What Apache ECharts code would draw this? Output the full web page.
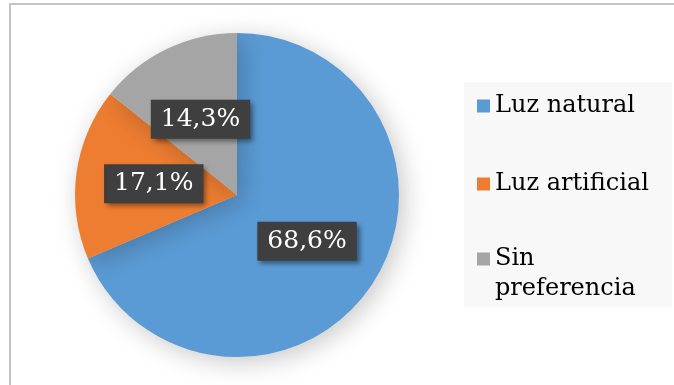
<!DOCTYPE html>
<html>
<head>
<meta charset="utf-8">
<script src="https://cdn.jsdelivr.net/npm/echarts@6/dist/echarts.min.js"></script>
<style>
html,body{margin:0;padding:0;background:#fff;}
#c{width:674px;height:385px;}
</style>
</head>
<body>
<div id="c"></div>
<script>
var categories = ['Luz natural', 'Luz artificial', 'Sin preferencia'];
var values = [68.6, 17.1, 14.3];
var colors = ['#5b9bd5', '#ed7d31', '#a5a5a5'];

var chart = echarts.init(document.getElementById('c'), null, {renderer: 'canvas'});
var FONT = '"DejaVu Serif", "Liberation Serif", serif';

var legendTops = [91, 169, 214];
function makeLegend(i) {
  return {
    orient: 'vertical',
    left: 477,
    top: legendTops[i],
    padding: 0,
    icon: 'rect',
    itemWidth: 13,
    itemHeight: 13,
    itemGap: 0,
    data: [categories[i]],
    formatter: function (n) {
      return n === 'Sin preferencia' ? '{g|}\n{t|Sin}\n{t|preferencia}' : n;
    },
    textStyle: {
      fontFamily: FONT, fontSize: 24, color: '#000', lineHeight: 30,
      rich: {
        g: {height: 30, lineHeight: 30, fontSize: 24},
        t: {fontFamily: FONT, fontSize: 24, color: '#000', lineHeight: 30}
      }
    }
  };
}

var option = {
  animation: false,
  backgroundColor: '#ffffff',
  graphic: [{
    type: 'rect',
    shape: {x: 10, y: 4, width: 700, height: 420},
    style: {fill: 'none', stroke: '#c4c4c4', lineWidth: 2},
    z: -1
  }, {
    type: 'rect',
    shape: {x: 464, y: 82, width: 208, height: 225},
    style: {fill: '#f8f8f8'},
    z: -1
  }],
  legend: [makeLegend(0), makeLegend(1), makeLegend(2)],
  series: [{
    type: 'pie',
    center: [237, 195],
    radius: [0, 162],
    startAngle: 90,
    clockwise: true,
    label: {
      show: true,
      position: 'inside',
      formatter: function (p) { return p.value.toFixed(1).replace('.', ',') + '%'; },
      fontFamily: FONT,
      fontSize: 25,
      color: '#ffffff',
      backgroundColor: '#3f3f3f',
      padding: [7, 10, 7, 10],
      shadowColor: 'rgba(0,0,0,0.45)',
      shadowBlur: 5,
      shadowOffsetX: 3,
      shadowOffsetY: 3
    },
    labelLine: {show: false},
    itemStyle: {
      borderWidth: 0,
      shadowColor: 'rgba(0,0,0,0.22)',
      shadowBlur: 26,
      shadowOffsetX: 5,
      shadowOffsetY: 5
    },
    emphasis: {disabled: true},
    data: categories.map(function (c, i) {
      return {name: c, value: values[i], itemStyle: {color: colors[i]}};
    })
  }]
};
chart.setOption(option);
</script>
</body>
</html>
